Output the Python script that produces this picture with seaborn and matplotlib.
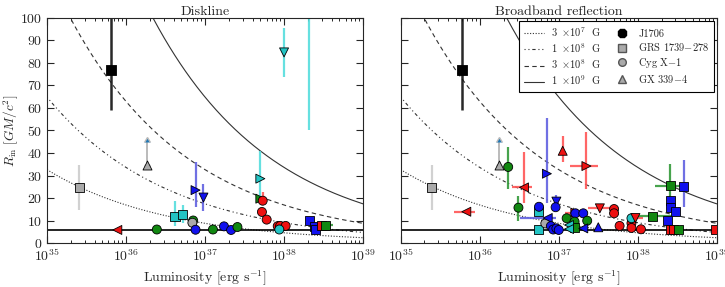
import numpy as np
import pandas as pd
import matplotlib
matplotlib.use('Agg')
import matplotlib.pyplot as plt
import seaborn as sns
from matplotlib.lines import Line2D

# field lines: R_m ~ B^(4/7) L^(-2/7), normalised to 17.4 GM/c^2 at B=1e9 G, L=1e39
fields = [3e7, 1e8, 3e8, 1e9]
field_labels = [r'$3\ \times\!10^{7}$  G', r'$1\ \times\!10^{8}$  G',
                r'$3\ \times\!10^{8}$  G', r'$1\ \times\!10^{9}$  G']
field_styles = [(0, (1, 1.5)), (0, (1, 2.5, 1, 2.5, 3, 2.5)), (0, (4, 3)), '-']
r_norm = 17.4
isco = 6.0

# Diskline panel: log L, R_in, -err, +err, x -err (dex), x +err (dex), colour, marker
dl_logL = [35.41, 35.89, 36.39, 36.62, 36.72, 36.85, 36.84, 36.88, 36.88, 36.98, 37.10, 37.24,
           37.33, 37.41, 37.70, 37.70, 37.73, 37.72, 37.78, 37.92, 37.95, 38.02, 37.94, 38.32,
           38.39, 38.40, 38.48, 38.52, 38.00, 38.32, 35.81]
dl_R = [24.7, 5.8, 6.0, 11.7, 12.7, 10.0, 9.0, 5.9, 23.5, 20.2, 6.0, 7.4,
        5.8, 7.1, 28.6, 19.7, 18.8, 13.8, 10.4, 7.5, 7.6, 7.6, 6.0, 9.9,
        7.3, 6.0, 7.6, 8.0, 84.7, 115.0, 77.0]
dl_rlo = [10, 0, 0, 4, 4, 0, 0, 0, 7.5, 6, 0, 0,
          0, 0, 8.6, 0, 0, 0, 0, 0, 0, 0, 0, 0,
          0, 0, 0, 0, 10.8, 65, 18]
dl_rhi = [10, 0, 0, 7, 4, 0, 0, 0, 12.5, 6, 0, 0,
          0, 0, 12.4, 0, 4, 0, 0, 0, 0, 0, 0, 0,
          0, 0, 0, 0, 11, 10, 30]
dl_xlo = [0] * 31
dl_xhi = [0] * 27 + [0.1, 0, 0, 0]
dl_col = ['gray', 'red', 'green', 'cyan', 'cyan', 'green', 'gray', 'blue', 'blue', 'blue', 'green', 'blue',
          'blue', 'green', 'cyan', 'green', 'red', 'red', 'red', 'red', 'red', 'red', 'cyan', 'blue',
          'blue', 'blue', 'red', 'green', 'cyan', 'cyan', 'black']
dl_mark = ['s', '<', 'o', 's', 's', 'o', 'o', 'o', '>', 'v', 'o', 'o',
           'o', 'o', '>', '>', 'o', 'o', 'o', 'o', 'o', 'o', 'o', 's',
           's', 's', 's', 's', 'v', 'v', 'S']

# Broadband reflection panel
bb_logL = [35.39, 35.83, 36.36, 36.49, 36.56, 36.74, 36.74, 36.75, 36.85, 36.83, 36.86, 36.90,
           36.93, 36.97, 37.00, 36.97, 36.96, 37.21, 37.05, 37.35, 37.21, 37.31, 37.10, 37.20,
           37.36, 37.20, 37.13, 37.13, 37.31, 37.50, 37.52, 37.70, 37.70, 37.77, 37.92, 37.92,
           37.92, 37.97, 38.04, 38.18, 38.41, 38.58, 38.41, 38.41, 38.48, 38.38, 38.41, 38.45,
           38.51, 38.98, 35.78]
bb_R = [24.7, 13.9, 33.8, 15.7, 24.7, 13.9, 6.2, 16.1, 30.8, 8.7, 11.1, 7.5,
        6.0, 6.5, 5.8, 18.4, 15.9, 13.5, 41.0, 34.2, 13.2, 13.2, 11.0, 9.5,
        9.9, 6.8, 8.0, 6.2, 6.5, 7.0, 15.4, 15.1, 13.2, 7.6, 8.8, 6.7,
        11.0, 11.1, 6.1, 12.0, 25.5, 25.0, 18.7, 15.7, 14.2, 9.9, 5.8, 5.8,
        5.8, 5.8, 77.0]
bb_rlo = [10, 0, 10, 6, 7, 0, 0, 0, 12.8, 0, 0, 0,
          0, 0, 0, 2, 0, 0, 5, 10, 0, 0, 0, 0,
          0, 0, 0, 0, 0, 0, 0, 0, 0, 0, 0, 0,
          0, 0, 0, 0, 9.5, 9, 0, 0, 0, 0, 0, 0,
          0, 0, 18]
bb_rhi = [10, 0, 9, 5, 15.9, 0, 0, 0, 24.7, 0, 0, 0,
          0, 0, 0, 3, 0, 0, 6.5, 15.3, 0, 0, 0, 0,
          0, 0, 0, 0, 0, 0, 0, 0, 0, 0, 0, 0,
          0, 0, 0, 0, 9.5, 12, 0, 0, 0, 0, 0, 0,
          0, 0, 30]
bb_xlo = [0, 0.16, 0, 0, 0.15, 0, 0, 0, 0, 0, 0.35, 0,
          0, 0, 0, 0, 0, 0.13, 0, 0.21, 0, 0, 0, 0,
          0, 0, 0, 0, 0, 0, 0.15, 0, 0, 0, 0, 0,
          0, 0.1, 0, 0.26, 0.19, 0, 0, 0, 0, 0, 0, 0,
          0, 0, 0]
bb_xhi = [0, 0.11, 0, 0, 0.10, 0, 0, 0, 0, 0, 0.1, 0,
          0, 0, 0, 0, 0, 0.14, 0, 0.15, 0, 0, 0, 0,
          0, 0, 0, 0, 0, 0, 0.19, 0, 0, 0, 0, 0,
          0, 0.1, 0, 0.25, 0.16, 0, 0, 0, 0, 0, 0, 0,
          0, 0, 0]
bb_col = ['gray', 'red', 'green', 'green', 'red', 'cyan', 'cyan', 'blue', 'blue', 'gray', 'blue', 'blue',
          'blue', 'blue', 'blue', 'blue', 'blue', 'red', 'red', 'red', 'blue', 'blue', 'green', 'green',
          'green', 'green', 'cyan', 'cyan', 'blue', 'blue', 'red', 'red', 'red', 'red', 'red', 'red',
          'cyan', 'red', 'red', 'green', 'green', 'blue', 'blue', 'blue', 'blue', 'blue', 'red', 'red',
          'green', 'red', 'black']
bb_mark = ['s', '<', 'o', 'o', '<', 's', 's', 'o', '>', 'o', '<', 'o',
           'o', 'o', 'o', 'v', 'o', '>', '^', '>', 'o', 'o', 'o', 'o',
           'o', 's', '<', '<', '<', '^', 'v', 'o', 'o', 'o', 'o', 'o',
           'o', 'v', 'o', 's', 's', 's', 's', 's', 's', 's', 's', 's',
           's', 's', 'S']

# GX 339-4 lower limit
gx_logL = [36.27, 36.25]
gx_R = [34.5, 34.5]
gx_up = 10.5

palette = {'red': '#ee1111', 'green': '#118811', 'blue': '#1111ee', 'cyan': '#22c4c4',
           'gray': '#aaaaaa', 'black': '#000000'}
err_col = {'red': '#ff5555', 'green': '#33993a', 'blue': '#6060e0', 'cyan': '#55dddd',
           'gray': '#cccccc', 'black': '#111111'}
# 'S' = the big J1706 square
markers = {'s': 's', 'o': 'o', '<': '<', '>': '>', '^': '^', 'v': 'v', 'S': 's'}

sns.set_style('ticks')
plt.rcParams['font.family'] = ['cmr10', 'DejaVu Serif']
plt.rcParams['mathtext.fontset'] = 'cm'
plt.rcParams['axes.formatter.use_mathtext'] = True
plt.rcParams['axes.unicode_minus'] = False

fig = plt.figure(figsize=(7.25, 2.87), dpi=100)
ax1 = fig.add_axes([0.0648, 0.1533, 0.436, 0.784])
ax2 = fig.add_axes([0.5527, 0.1533, 0.436, 0.784])

Lgrid = np.logspace(35, 39, 300)


def draw_panel(ax, logL, R, rlo, rhi, xlo, xhi, col, mark, gxL, title):
    df = pd.DataFrame({'logL': logL, 'R': R, 'rlo': rlo, 'rhi': rhi,
                       'xlo': xlo, 'xhi': xhi, 'col': col, 'mark': mark})
    df['L'] = 10 ** df['logL']
    for B, ls in zip(fields, field_styles):
        ax.plot(Lgrid, r_norm * (B / 1e9) ** (4 / 7) * (Lgrid / 1e39) ** (-2 / 7),
                color='#333333', lw=0.8, ls=ls, zorder=1)
    ax.axhline(isco, color='black', lw=1.2, zorder=1)
    for _, r in df.iterrows():
        xe = [[r.L - 10 ** (r.logL - r.xlo)], [10 ** (r.logL + r.xhi) - r.L]]
        ye = [[r.rlo], [r.rhi]]
        if r.rlo or r.rhi or r.xlo or r.xhi:
            ax.errorbar(r.L, r.R, yerr=ye, xerr=xe, fmt='none', ecolor=err_col[r.col],
                        elinewidth=1.6 if r.col != 'black' else 1.8, capsize=0, zorder=2,
                        alpha=0.9)
    ax.errorbar([10 ** gxL], [34.5], yerr=[[0], [gx_up]], lolims=True, fmt='none',
                ecolor='#bbbbbb', elinewidth=1.4, capsize=2.5, zorder=2)
    big = df['mark'] == 'S'
    sns.scatterplot(data=df[~big], x='L', y='R', hue='col', style='mark', palette=palette,
                    markers=markers, s=42, edgecolor='black', linewidth=0.6,
                    legend=False, ax=ax, zorder=3)
    sns.scatterplot(data=df[big], x='L', y='R', marker='s', color='black', s=60,
                    edgecolor='black', linewidth=0.6, legend=False, ax=ax, zorder=3)
    sns.scatterplot(x=[10 ** gxL], y=[34.5], marker='^', color=palette['gray'], s=42,
                    edgecolor='black', linewidth=0.6, legend=False, ax=ax, zorder=3)
    ax.set_xscale('log')
    ax.set_xlim(1e35, 1e39)
    ax.set_ylim(0, 100)
    ax.set_yticks(range(0, 101, 10))
    ax.set_xticks([1e35, 1e36, 1e37, 1e38, 1e39])
    ax.tick_params(which='both', direction='in', top=True, right=True, labelsize=10)
    ax.tick_params(which='major', length=5, width=0.8)
    ax.tick_params(which='minor', length=2.5, width=0.7)
    for s in ax.spines.values():
        s.set_linewidth(0.8)
    ax.set_xlabel(r'Luminosity [erg s$^{-1}$]', fontsize=10, labelpad=3)
    ax.set_ylabel('')
    ax.set_title(title, fontsize=10, pad=2)


draw_panel(ax1, dl_logL, dl_R, dl_rlo, dl_rhi, dl_xlo, dl_xhi, dl_col, dl_mark, gx_logL[0], 'Diskline')
draw_panel(ax2, bb_logL, bb_R, bb_rlo, bb_rhi, bb_xlo, bb_xhi, bb_col, bb_mark, gx_logL[1],
           'Broadband reflection')
ax1.set_ylabel(r'$R_{\rm in}$ $[GM/c^2]$', fontsize=9.5, labelpad=0)
ax2.set_yticklabels([])

handles = [Line2D([], [], color='#333333', lw=0.8, ls=ls) for ls in field_styles]
handles += [Line2D([], [], ls='none', marker='8', ms=6.5, color='black', mec='black'),
            Line2D([], [], ls='none', marker='s', ms=5.5, color='#aaaaaa', mec='#555555'),
            Line2D([], [], ls='none', marker='o', ms=5.5, color='#aaaaaa', mec='#555555'),
            Line2D([], [], ls='none', marker='^', ms=5.5, color='#aaaaaa', mec='#555555')]
labels = field_labels + ['J1706', r'GRS 1739$-$278', r'Cyg X$-$1', r'GX 339$-$4']
leg = ax2.legend(handles, labels, ncol=2, loc='upper right', fontsize=7.5, frameon=True,
                 fancybox=False, edgecolor='black', borderaxespad=0.3, handlelength=2.0,
                 handletextpad=0.6, columnspacing=1.0, labelspacing=0.25, framealpha=1)
leg.get_frame().set_linewidth(0.8)

fig.savefig('out.png', dpi=100)
